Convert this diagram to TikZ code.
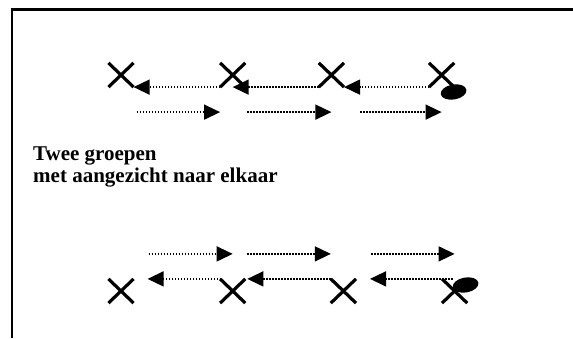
\documentclass[tikz,border=0pt]{standalone}
\usepackage{fontspec}
\setmainfont{Liberation Serif}
\usetikzlibrary{arrows.meta, positioning, shapes.misc, shapes.geometric}

\begin{document}
\begin{tikzpicture}[
      x=1pt, y=-1pt,
      cross/.style={draw, cross out, line width=3.2pt, inner sep=0pt,
                    minimum width=22pt, minimum height=21pt},
      ball/.style={ellipse, fill, inner sep=0pt, rotate=10,
                   minimum width=26pt, minimum height=15pt},
      arr/.style={dash pattern=on 1.5pt off 1.5pt, line width=1.5pt,
                  -{Triangle[length=16pt, width=15pt]}},
      frame/.style={line width=2.5pt}]
    \useasboundingbox (0,0) rectangle (573,338);
    \draw[frame] (12,338) -- (12,9.5) -- (573,9.5);

    % upper group
    \node[cross] (a1) at (121,75) {};
    \node[cross, right=86.5pt of a1] (a2) {};
    \node[cross, right=73.5pt of a2] (a3) {};
    \node[cross, right=85pt of a3] (a4) {};
    \node[ball] (e1) at ([shift={(12pt,-17pt)}]a4.center) {};
    \draw[arr] (a2.south west) -- (a1.south east);
    \draw[arr] (a3.south west) -- (a2.south);
    \draw[arr] (a4.south west) -- (a3.south east);
    \draw[arr] ([shift={(3pt,-25pt)}]a1.south east) -- ([yshift=-25pt]a2.south west);
    \draw[arr] ([shift={(2pt,-25pt)}]a2.south east) -- ([yshift=-25pt]a3.south);
    \draw[arr] ([shift={(16pt,-25pt)}]a3.south east) -- ([yshift=-25pt]a4.south);

    \node[anchor=north west, inner sep=0pt, align=left,
          font=\bfseries\fontsize{21}{22}\selectfont] (txt) at (33,147)
      {Twee groepen\\met aangezicht naar elkaar};

    % lower group
    \node[cross] (b1) at (121,291) {};
    \node[cross, right=86.5pt of b1] (b2) {};
    \node[cross, right=85.5pt of b2] (b3) {};
    \node[cross, right=86pt of b3] (b4) {};
    \node[ball] (e2) at ([shift={(11pt,6pt)}]b4.center) {};
    \draw[arr] ([xshift=1pt]b2.north west) -- ([xshift=14pt]b1.north east);
    \draw[arr] (b3.north west) -- ([xshift=2pt]b2.north east);
    \draw[arr] ([xshift=-2pt]b4.north) -- ([xshift=14pt]b3.north east);
    \draw[arr] ([shift={(15pt,25pt)}]b1.north east) -- ([yshift=25pt]b2.north);
    \draw[arr] ([shift={(2pt,25pt)}]b2.north east) -- ([yshift=25pt]b3.north west);
    \draw[arr] ([shift={(15pt,25pt)}]b3.north east) -- ([yshift=25pt]b4.north);
\end{tikzpicture}
\end{document}
